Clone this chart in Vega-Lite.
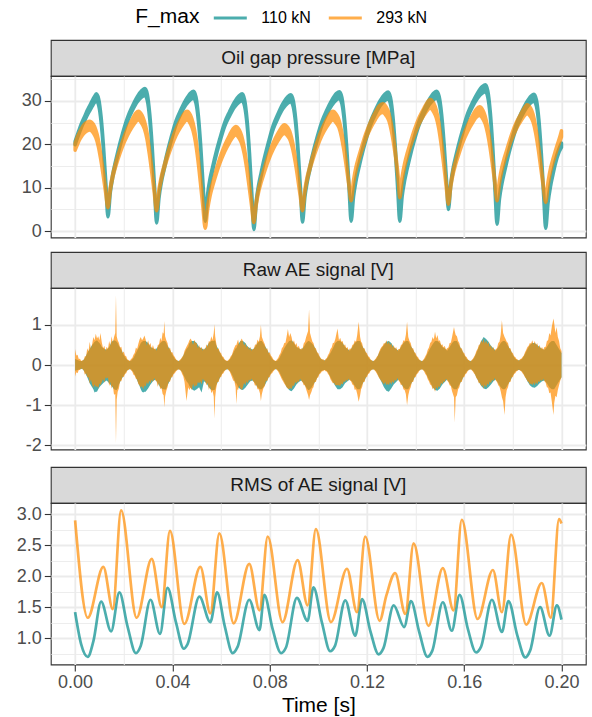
{
"$schema": "https://vega.github.io/schema/vega-lite/v6.json",
"padding": {"left": 14.8, "top": 0, "right": 5, "bottom": 2},
"background": "#FFFFFF",
"config": {
  "font": "Liberation Sans",
  "view": {"stroke": "#333333", "strokeWidth": 1.1},
  "axis": {"domain": false, "grid": true, "gridColor": "#EBEBEB", "tickColor": "#333333", "tickWidth": 1.1, "tickSize": 6.5, "labelColor": "#4D4D4D", "labelFontSize": 18, "labelPadding": 3, "labelOverlap": false, "labelFlush": false, "titleFontWeight": "normal"},
  "axisY": {"minExtent": 34, "maxExtent": 34},
  "text": {"font": "Liberation Sans"}
},
"datasets": {
"pres": [
{"t":0.0,"s":"110 kN","lo":19.9,"hi":20.7},{"t":0.001,"s":"110 kN","lo":21.5,"hi":22.3},{"t":0.002,"s":"110 kN","lo":23.0,"hi":23.9},{"t":0.003,"s":"110 kN","lo":24.4,"hi":25.3},{"t":0.004,"s":"110 kN","lo":25.5,"hi":26.5},{"t":0.005,"s":"110 kN","lo":26.7,"hi":27.8},{"t":0.006,"s":"110 kN","lo":27.7,"hi":28.9},{"t":0.007,"s":"110 kN","lo":28.7,"hi":30.0},{"t":0.008,"s":"110 kN","lo":29.6,"hi":31.0},{"t":0.0087,"s":"110 kN","lo":30.0,"hi":31.6},{"t":0.0097,"s":"110 kN","lo":28.9,"hi":30.4},{"t":0.0107,"s":"110 kN","lo":25.0,"hi":26.2},{"t":0.0117,"s":"110 kN","lo":18.4,"hi":19.3},{"t":0.0127,"s":"110 kN","lo":9.8,"hi":10.5},{"t":0.0135,"s":"110 kN","lo":3.3,"hi":3.9},
{"t":0.0145,"s":"110 kN","lo":9.0,"hi":9.7},{"t":0.0155,"s":"110 kN","lo":12.4,"hi":13.2},{"t":0.0165,"s":"110 kN","lo":15.0,"hi":15.8},{"t":0.0175,"s":"110 kN","lo":17.4,"hi":18.2},{"t":0.0195,"s":"110 kN","lo":21.7,"hi":22.5},{"t":0.0215,"s":"110 kN","lo":25.2,"hi":26.1},{"t":0.0235,"s":"110 kN","lo":27.7,"hi":28.7},{"t":0.0255,"s":"110 kN","lo":29.7,"hi":30.9},{"t":0.0275,"s":"110 kN","lo":30.9,"hi":32.4},{"t":0.0287,"s":"110 kN","lo":31.2,"hi":32.8},{"t":0.0297,"s":"110 kN","lo":30.0,"hi":31.5},{"t":0.0307,"s":"110 kN","lo":25.7,"hi":26.9},{"t":0.0317,"s":"110 kN","lo":18.5,"hi":19.4},{"t":0.0327,"s":"110 kN","lo":9.1,"hi":9.8},{"t":0.0335,"s":"110 kN","lo":1.9,"hi":2.5},
{"t":0.0345,"s":"110 kN","lo":7.7,"hi":8.4},{"t":0.0355,"s":"110 kN","lo":11.3,"hi":12.1},{"t":0.0365,"s":"110 kN","lo":13.9,"hi":14.7},{"t":0.0375,"s":"110 kN","lo":16.4,"hi":17.2},{"t":0.0395,"s":"110 kN","lo":20.8,"hi":21.6},{"t":0.0415,"s":"110 kN","lo":24.5,"hi":25.4},{"t":0.0435,"s":"110 kN","lo":27.0,"hi":28.0},{"t":0.0455,"s":"110 kN","lo":29.0,"hi":30.2},{"t":0.0475,"s":"110 kN","lo":30.3,"hi":31.8},{"t":0.0487,"s":"110 kN","lo":30.6,"hi":32.2},{"t":0.0497,"s":"110 kN","lo":29.4,"hi":30.9},{"t":0.0507,"s":"110 kN","lo":25.3,"hi":26.5},{"t":0.0517,"s":"110 kN","lo":18.3,"hi":19.2},{"t":0.0527,"s":"110 kN","lo":9.2,"hi":9.9},{"t":0.0535,"s":"110 kN","lo":2.3,"hi":2.9},
{"t":0.0545,"s":"110 kN","lo":7.9,"hi":8.6},{"t":0.0555,"s":"110 kN","lo":11.4,"hi":12.2},{"t":0.0565,"s":"110 kN","lo":13.9,"hi":14.7},{"t":0.0575,"s":"110 kN","lo":16.3,"hi":17.1},{"t":0.0595,"s":"110 kN","lo":20.5,"hi":21.3},{"t":0.0615,"s":"110 kN","lo":24.1,"hi":25.0},{"t":0.0635,"s":"110 kN","lo":26.5,"hi":27.5},{"t":0.0655,"s":"110 kN","lo":28.5,"hi":29.7},{"t":0.0675,"s":"110 kN","lo":29.7,"hi":31.2},{"t":0.0687,"s":"110 kN","lo":30.0,"hi":31.6},{"t":0.0697,"s":"110 kN","lo":28.7,"hi":30.2},{"t":0.0707,"s":"110 kN","lo":24.5,"hi":25.7},{"t":0.0717,"s":"110 kN","lo":17.2,"hi":18.1},{"t":0.0727,"s":"110 kN","lo":7.6,"hi":8.3},{"t":0.0735,"s":"110 kN","lo":0.4,"hi":1.0},
{"t":0.0745,"s":"110 kN","lo":6.4,"hi":7.1},{"t":0.0755,"s":"110 kN","lo":10.0,"hi":10.8},{"t":0.0765,"s":"110 kN","lo":12.7,"hi":13.5},{"t":0.0775,"s":"110 kN","lo":15.3,"hi":16.1},{"t":0.0795,"s":"110 kN","lo":19.7,"hi":20.5},{"t":0.0815,"s":"110 kN","lo":23.5,"hi":24.4},{"t":0.0835,"s":"110 kN","lo":26.1,"hi":27.1},{"t":0.0855,"s":"110 kN","lo":28.2,"hi":29.4},{"t":0.0875,"s":"110 kN","lo":29.5,"hi":31.0},{"t":0.0887,"s":"110 kN","lo":29.8,"hi":31.4},{"t":0.0897,"s":"110 kN","lo":28.6,"hi":30.1},{"t":0.0907,"s":"110 kN","lo":24.6,"hi":25.8},{"t":0.0917,"s":"110 kN","lo":17.8,"hi":18.7},{"t":0.0927,"s":"110 kN","lo":8.9,"hi":9.6},{"t":0.0935,"s":"110 kN","lo":2.1,"hi":2.7},
{"t":0.0945,"s":"110 kN","lo":7.9,"hi":8.6},{"t":0.0955,"s":"110 kN","lo":11.4,"hi":12.2},{"t":0.0965,"s":"110 kN","lo":14.0,"hi":14.8},{"t":0.0975,"s":"110 kN","lo":16.5,"hi":17.3},{"t":0.0995,"s":"110 kN","lo":20.8,"hi":21.6},{"t":0.1015,"s":"110 kN","lo":24.4,"hi":25.3},{"t":0.1035,"s":"110 kN","lo":26.9,"hi":27.9},{"t":0.1055,"s":"110 kN","lo":28.9,"hi":30.1},{"t":0.1075,"s":"110 kN","lo":30.2,"hi":31.7},{"t":0.1087,"s":"110 kN","lo":30.5,"hi":32.1},{"t":0.1097,"s":"110 kN","lo":29.3,"hi":30.8},{"t":0.1107,"s":"110 kN","lo":25.2,"hi":26.4},{"t":0.1117,"s":"110 kN","lo":18.3,"hi":19.2},{"t":0.1127,"s":"110 kN","lo":9.2,"hi":9.9},{"t":0.1135,"s":"110 kN","lo":2.3,"hi":2.9},
{"t":0.1145,"s":"110 kN","lo":8.0,"hi":8.7},{"t":0.1155,"s":"110 kN","lo":11.5,"hi":12.3},{"t":0.1165,"s":"110 kN","lo":14.1,"hi":14.9},{"t":0.1175,"s":"110 kN","lo":16.5,"hi":17.3},{"t":0.1195,"s":"110 kN","lo":20.8,"hi":21.6},{"t":0.1215,"s":"110 kN","lo":24.4,"hi":25.3},{"t":0.1235,"s":"110 kN","lo":26.9,"hi":27.9},{"t":0.1255,"s":"110 kN","lo":28.9,"hi":30.1},{"t":0.1275,"s":"110 kN","lo":30.1,"hi":31.6},{"t":0.1287,"s":"110 kN","lo":30.4,"hi":32.0},{"t":0.1297,"s":"110 kN","lo":29.2,"hi":30.7},{"t":0.1307,"s":"110 kN","lo":25.2,"hi":26.4},{"t":0.1317,"s":"110 kN","lo":18.2,"hi":19.1},{"t":0.1327,"s":"110 kN","lo":9.2,"hi":9.9},{"t":0.1335,"s":"110 kN","lo":2.3,"hi":2.9},
{"t":0.1345,"s":"110 kN","lo":8.1,"hi":8.8},{"t":0.1355,"s":"110 kN","lo":11.6,"hi":12.4},{"t":0.1365,"s":"110 kN","lo":14.2,"hi":15.0},{"t":0.1375,"s":"110 kN","lo":16.6,"hi":17.4},{"t":0.1395,"s":"110 kN","lo":20.9,"hi":21.7},{"t":0.1415,"s":"110 kN","lo":24.5,"hi":25.4},{"t":0.1435,"s":"110 kN","lo":27.0,"hi":28.0},{"t":0.1455,"s":"110 kN","lo":29.0,"hi":30.2},{"t":0.1475,"s":"110 kN","lo":30.3,"hi":31.8},{"t":0.1487,"s":"110 kN","lo":30.6,"hi":32.2},{"t":0.1497,"s":"110 kN","lo":29.5,"hi":31.0},{"t":0.1507,"s":"110 kN","lo":25.8,"hi":27.0},{"t":0.1517,"s":"110 kN","lo":19.5,"hi":20.4},{"t":0.1527,"s":"110 kN","lo":11.3,"hi":12.0},{"t":0.1535,"s":"110 kN","lo":5.0,"hi":5.6},
{"t":0.1545,"s":"110 kN","lo":10.5,"hi":11.2},{"t":0.1555,"s":"110 kN","lo":13.9,"hi":14.7},{"t":0.1565,"s":"110 kN","lo":16.4,"hi":17.2},{"t":0.1575,"s":"110 kN","lo":18.7,"hi":19.5},{"t":0.1595,"s":"110 kN","lo":22.8,"hi":23.6},{"t":0.1615,"s":"110 kN","lo":26.3,"hi":27.2},{"t":0.1635,"s":"110 kN","lo":28.7,"hi":29.7},{"t":0.1655,"s":"110 kN","lo":30.6,"hi":31.8},{"t":0.1675,"s":"110 kN","lo":31.8,"hi":33.3},{"t":0.1687,"s":"110 kN","lo":32.1,"hi":33.7},{"t":0.1697,"s":"110 kN","lo":30.8,"hi":32.3},{"t":0.1707,"s":"110 kN","lo":26.4,"hi":27.6},{"t":0.1717,"s":"110 kN","lo":18.9,"hi":19.8},{"t":0.1727,"s":"110 kN","lo":9.0,"hi":9.7},{"t":0.1735,"s":"110 kN","lo":1.6,"hi":2.2},
{"t":0.1745,"s":"110 kN","lo":7.4,"hi":8.1},{"t":0.1755,"s":"110 kN","lo":10.9,"hi":11.7},{"t":0.1765,"s":"110 kN","lo":13.5,"hi":14.3},{"t":0.1775,"s":"110 kN","lo":15.9,"hi":16.7},{"t":0.1795,"s":"110 kN","lo":20.2,"hi":21.0},{"t":0.1815,"s":"110 kN","lo":23.8,"hi":24.7},{"t":0.1835,"s":"110 kN","lo":26.3,"hi":27.3},{"t":0.1855,"s":"110 kN","lo":28.3,"hi":29.5},{"t":0.1875,"s":"110 kN","lo":29.6,"hi":31.1},{"t":0.1887,"s":"110 kN","lo":29.9,"hi":31.5},{"t":0.1897,"s":"110 kN","lo":28.7,"hi":30.2},{"t":0.1907,"s":"110 kN","lo":24.5,"hi":25.7},{"t":0.1917,"s":"110 kN","lo":17.2,"hi":18.1},{"t":0.1927,"s":"110 kN","lo":7.8,"hi":8.5},{"t":0.1935,"s":"110 kN","lo":0.65,"hi":1.25},
{"t":0.1945,"s":"110 kN","lo":6.6,"hi":7.3},{"t":0.1955,"s":"110 kN","lo":10.3,"hi":11.1},{"t":0.1965,"s":"110 kN","lo":13.0,"hi":13.8},{"t":0.1975,"s":"110 kN","lo":15.5,"hi":16.3},{"t":0.199,"s":"110 kN","lo":18.2,"hi":19.0},{"t":0.2,"s":"110 kN","lo":19.3,"hi":20.3},
{"t":0.0,"s":"293 kN","lo":18.6,"hi":20.2},{"t":0.001,"s":"293 kN","lo":20.0,"hi":21.8},{"t":0.002,"s":"293 kN","lo":21.2,"hi":23.0},{"t":0.003,"s":"293 kN","lo":22.1,"hi":24.0},{"t":0.004,"s":"293 kN","lo":22.7,"hi":24.7},{"t":0.005,"s":"293 kN","lo":23.1,"hi":25.1},{"t":0.0059,"s":"293 kN","lo":23.3,"hi":25.3},{"t":0.0075,"s":"293 kN","lo":22.6,"hi":24.6},{"t":0.0085,"s":"293 kN","lo":21.5,"hi":23.3},{"t":0.0095,"s":"293 kN","lo":19.6,"hi":21.2},{"t":0.0105,"s":"293 kN","lo":16.6,"hi":17.8},{"t":0.0115,"s":"293 kN","lo":13.0,"hi":14.0},{"t":0.0125,"s":"293 kN","lo":9.0,"hi":9.8},{"t":0.0135,"s":"293 kN","lo":5.4,"hi":6.0},
{"t":0.0145,"s":"293 kN","lo":9.5,"hi":10.2},{"t":0.0155,"s":"293 kN","lo":12.4,"hi":13.2},{"t":0.0165,"s":"293 kN","lo":14.5,"hi":15.3},{"t":0.0175,"s":"293 kN","lo":16.3,"hi":17.2},{"t":0.0195,"s":"293 kN","lo":19.5,"hi":20.7},{"t":0.0215,"s":"293 kN","lo":22.0,"hi":23.6},{"t":0.0235,"s":"293 kN","lo":24.0,"hi":25.8},{"t":0.025,"s":"293 kN","lo":25.2,"hi":27.2},{"t":0.026,"s":"293 kN","lo":25.6,"hi":27.6},{"t":0.0275,"s":"293 kN","lo":24.7,"hi":26.7},{"t":0.0285,"s":"293 kN","lo":23.5,"hi":25.3},{"t":0.0295,"s":"293 kN","lo":21.3,"hi":22.9},{"t":0.0305,"s":"293 kN","lo":17.8,"hi":19.0},{"t":0.0315,"s":"293 kN","lo":13.6,"hi":14.6},{"t":0.0325,"s":"293 kN","lo":9.0,"hi":9.7},{"t":0.0335,"s":"293 kN","lo":4.7,"hi":5.3},
{"t":0.0345,"s":"293 kN","lo":9.0,"hi":9.7},{"t":0.0355,"s":"293 kN","lo":11.9,"hi":12.7},{"t":0.0365,"s":"293 kN","lo":14.1,"hi":14.9},{"t":0.0375,"s":"293 kN","lo":16.0,"hi":16.9},{"t":0.0395,"s":"293 kN","lo":19.3,"hi":20.5},{"t":0.0415,"s":"293 kN","lo":22.0,"hi":23.5},{"t":0.0435,"s":"293 kN","lo":24.0,"hi":25.8},{"t":0.045,"s":"293 kN","lo":25.2,"hi":27.2},{"t":0.046,"s":"293 kN","lo":25.6,"hi":27.6},{"t":0.0475,"s":"293 kN","lo":24.6,"hi":26.6},{"t":0.0485,"s":"293 kN","lo":23.1,"hi":24.9},{"t":0.0495,"s":"293 kN","lo":20.4,"hi":22.0},{"t":0.0505,"s":"293 kN","lo":16.3,"hi":17.5},{"t":0.0515,"s":"293 kN","lo":11.2,"hi":12.2},{"t":0.0525,"s":"293 kN","lo":5.8,"hi":6.5},{"t":0.0535,"s":"293 kN","lo":0.65,"hi":1.25},
{"t":0.0545,"s":"293 kN","lo":5.0,"hi":5.7},{"t":0.0555,"s":"293 kN","lo":8.1,"hi":8.9},{"t":0.0565,"s":"293 kN","lo":10.3,"hi":11.1},{"t":0.0575,"s":"293 kN","lo":12.2,"hi":13.1},{"t":0.0595,"s":"293 kN","lo":15.6,"hi":16.8},{"t":0.0615,"s":"293 kN","lo":18.3,"hi":19.8},{"t":0.0635,"s":"293 kN","lo":20.4,"hi":22.1},{"t":0.065,"s":"293 kN","lo":21.7,"hi":23.6},{"t":0.066,"s":"293 kN","lo":22.1,"hi":24.1},{"t":0.0675,"s":"293 kN","lo":21.3,"hi":23.3},{"t":0.0685,"s":"293 kN","lo":20.1,"hi":21.9},{"t":0.0695,"s":"293 kN","lo":17.9,"hi":19.4},{"t":0.0705,"s":"293 kN","lo":14.6,"hi":15.8},{"t":0.0715,"s":"293 kN","lo":10.5,"hi":11.4},{"t":0.0725,"s":"293 kN","lo":6.1,"hi":6.8},{"t":0.0735,"s":"293 kN","lo":2.0,"hi":2.6},
{"t":0.0745,"s":"293 kN","lo":6.1,"hi":6.8},{"t":0.0755,"s":"293 kN","lo":9.1,"hi":9.9},{"t":0.0765,"s":"293 kN","lo":11.2,"hi":12.0},{"t":0.0775,"s":"293 kN","lo":13.0,"hi":13.9},{"t":0.0795,"s":"293 kN","lo":16.3,"hi":17.5},{"t":0.0815,"s":"293 kN","lo":18.9,"hi":20.4},{"t":0.0835,"s":"293 kN","lo":20.9,"hi":22.6},{"t":0.085,"s":"293 kN","lo":22.1,"hi":24.0},{"t":0.086,"s":"293 kN","lo":22.5,"hi":24.5},{"t":0.0875,"s":"293 kN","lo":21.8,"hi":23.8},{"t":0.0885,"s":"293 kN","lo":20.8,"hi":22.6},{"t":0.0895,"s":"293 kN","lo":18.8,"hi":20.3},{"t":0.0905,"s":"293 kN","lo":15.9,"hi":17.1},{"t":0.0915,"s":"293 kN","lo":12.3,"hi":13.2},{"t":0.0925,"s":"293 kN","lo":8.3,"hi":9.0},{"t":0.0935,"s":"293 kN","lo":4.7,"hi":5.3},
{"t":0.0945,"s":"293 kN","lo":9.0,"hi":9.7},{"t":0.0955,"s":"293 kN","lo":11.9,"hi":12.7},{"t":0.0965,"s":"293 kN","lo":14.1,"hi":14.9},{"t":0.0975,"s":"293 kN","lo":16.0,"hi":16.9},{"t":0.0995,"s":"293 kN","lo":19.3,"hi":20.5},{"t":0.1015,"s":"293 kN","lo":22.0,"hi":23.5},{"t":0.1035,"s":"293 kN","lo":24.0,"hi":25.8},{"t":0.105,"s":"293 kN","lo":25.2,"hi":27.2},{"t":0.106,"s":"293 kN","lo":25.6,"hi":27.6},{"t":0.1075,"s":"293 kN","lo":24.8,"hi":26.8},{"t":0.1085,"s":"293 kN","lo":23.8,"hi":25.6},{"t":0.1095,"s":"293 kN","lo":21.7,"hi":23.2},{"t":0.1105,"s":"293 kN","lo":18.7,"hi":19.9},{"t":0.1115,"s":"293 kN","lo":14.9,"hi":15.8},{"t":0.1125,"s":"293 kN","lo":10.8,"hi":11.5},{"t":0.1135,"s":"293 kN","lo":7.0,"hi":7.6},
{"t":0.1145,"s":"293 kN","lo":11.1,"hi":11.8},{"t":0.1155,"s":"293 kN","lo":14.0,"hi":14.8},{"t":0.1165,"s":"293 kN","lo":16.1,"hi":16.9},{"t":0.1175,"s":"293 kN","lo":17.9,"hi":18.8},{"t":0.1195,"s":"293 kN","lo":21.2,"hi":22.4},{"t":0.1215,"s":"293 kN","lo":23.7,"hi":25.2},{"t":0.1235,"s":"293 kN","lo":25.7,"hi":27.4},{"t":0.125,"s":"293 kN","lo":26.9,"hi":28.8},{"t":0.1265,"s":"293 kN","lo":27.3,"hi":29.3},{"t":0.128,"s":"293 kN","lo":26.5,"hi":28.5},{"t":0.129,"s":"293 kN","lo":25.4,"hi":27.2},{"t":0.13,"s":"293 kN","lo":23.2,"hi":24.7},{"t":0.131,"s":"293 kN","lo":20.0,"hi":21.2},{"t":0.132,"s":"293 kN","lo":16.0,"hi":16.9},{"t":0.1329,"s":"293 kN","lo":11.7,"hi":12.4},{"t":0.1335,"s":"293 kN","lo":7.7,"hi":8.3},
{"t":0.1345,"s":"293 kN","lo":11.9,"hi":12.6},{"t":0.1355,"s":"293 kN","lo":14.8,"hi":15.6},{"t":0.1365,"s":"293 kN","lo":17.0,"hi":17.8},{"t":0.1375,"s":"293 kN","lo":18.8,"hi":19.7},{"t":0.1395,"s":"293 kN","lo":22.1,"hi":23.3},{"t":0.1415,"s":"293 kN","lo":24.7,"hi":26.2},{"t":0.1435,"s":"293 kN","lo":26.7,"hi":28.4},{"t":0.145,"s":"293 kN","lo":27.9,"hi":29.8},{"t":0.146,"s":"293 kN","lo":28.3,"hi":30.3},{"t":0.1475,"s":"293 kN","lo":27.4,"hi":29.4},{"t":0.1485,"s":"293 kN","lo":26.1,"hi":27.9},{"t":0.1495,"s":"293 kN","lo":23.7,"hi":25.2},{"t":0.1505,"s":"293 kN","lo":20.0,"hi":21.2},{"t":0.1515,"s":"293 kN","lo":15.6,"hi":16.5},{"t":0.1525,"s":"293 kN","lo":10.7,"hi":11.4},{"t":0.1535,"s":"293 kN","lo":6.2,"hi":6.8},
{"t":0.1545,"s":"293 kN","lo":10.3,"hi":11.0},{"t":0.1555,"s":"293 kN","lo":13.3,"hi":14.1},{"t":0.1565,"s":"293 kN","lo":15.4,"hi":16.2},{"t":0.1575,"s":"293 kN","lo":17.2,"hi":18.1},{"t":0.1595,"s":"293 kN","lo":20.5,"hi":21.7},{"t":0.1615,"s":"293 kN","lo":23.0,"hi":24.5},{"t":0.1635,"s":"293 kN","lo":25.0,"hi":26.7},{"t":0.165,"s":"293 kN","lo":26.2,"hi":28.1},{"t":0.1663,"s":"293 kN","lo":26.6,"hi":28.6},{"t":0.1677,"s":"293 kN","lo":25.8,"hi":27.8},{"t":0.1686,"s":"293 kN","lo":24.7,"hi":26.5},{"t":0.1696,"s":"293 kN","lo":22.5,"hi":24.0},{"t":0.1706,"s":"293 kN","lo":19.3,"hi":20.5},{"t":0.1716,"s":"293 kN","lo":15.3,"hi":16.2},{"t":0.1726,"s":"293 kN","lo":11.0,"hi":11.7},{"t":0.1735,"s":"293 kN","lo":7.0,"hi":7.6},
{"t":0.1745,"s":"293 kN","lo":11.1,"hi":11.8},{"t":0.1755,"s":"293 kN","lo":14.0,"hi":14.8},{"t":0.1765,"s":"293 kN","lo":16.1,"hi":16.9},{"t":0.1775,"s":"293 kN","lo":17.8,"hi":18.7},{"t":0.1795,"s":"293 kN","lo":21.1,"hi":22.3},{"t":0.1815,"s":"293 kN","lo":23.6,"hi":25.1},{"t":0.1835,"s":"293 kN","lo":25.5,"hi":27.2},{"t":0.185,"s":"293 kN","lo":26.7,"hi":28.6},{"t":0.1858,"s":"293 kN","lo":27.1,"hi":29.1},{"t":0.1873,"s":"293 kN","lo":26.3,"hi":28.3},{"t":0.1883,"s":"293 kN","lo":25.1,"hi":26.9},{"t":0.1893,"s":"293 kN","lo":22.8,"hi":24.3},{"t":0.1903,"s":"293 kN","lo":19.4,"hi":20.6},{"t":0.1913,"s":"293 kN","lo":15.3,"hi":16.2},{"t":0.1924,"s":"293 kN","lo":10.7,"hi":11.4},{"t":0.1935,"s":"293 kN","lo":6.6,"hi":7.2},
{"t":0.1945,"s":"293 kN","lo":10.7,"hi":11.4},{"t":0.1955,"s":"293 kN","lo":13.7,"hi":14.5},{"t":0.1965,"s":"293 kN","lo":15.8,"hi":16.6},{"t":0.1975,"s":"293 kN","lo":17.6,"hi":18.5},{"t":0.1995,"s":"293 kN","lo":20.9,"hi":22.1},{"t":0.2,"s":"293 kN","lo":21.7,"hi":23.1}
],
"ae": [
{"t":0.0,"al":-0.14,"ah":0.15,"bl":-0.28,"bh":0.40},{"t":0.001,"al":-0.12,"ah":0.13,"bl":-0.20,"bh":0.26},{"t":0.002,"al":-0.10,"ah":0.10,"bl":-0.12,"bh":0.16},{"t":0.003,"al":-0.09,"ah":0.10,"bl":-0.10,"bh":0.12},{"t":0.004,"al":-0.18,"ah":0.17,"bl":-0.24,"bh":0.22},{"t":0.005,"al":-0.30,"ah":0.30,"bl":-0.30,"bh":0.42},{"t":0.006,"al":-0.45,"ah":0.40,"bl":-0.46,"bh":0.58},{"t":0.007,"al":-0.55,"ah":0.50,"bl":-0.48,"bh":0.52},{"t":0.0075,"al":-0.60,"ah":0.54,"bl":-0.56,"bh":0.70},{"t":0.008,"al":-0.68,"ah":0.58,"bl":-0.48,"bh":0.62},{"t":0.0085,"al":-0.66,"ah":0.60,"bl":-0.55,"bh":0.78},{"t":0.009,"al":-0.66,"ah":0.62,"bl":-0.52,"bh":0.66},{"t":0.0095,"al":-0.60,"ah":0.58,"bl":-0.58,"bh":0.72},{"t":0.010,"al":-0.55,"ah":0.55,"bl":-0.46,"bh":0.62},{"t":0.0104,"al":-0.52,"ah":0.52,"bl":-0.50,"bh":0.80},{"t":0.011,"al":-0.48,"ah":0.45,"bl":-0.42,"bh":0.56},{"t":0.012,"al":-0.42,"ah":0.40,"bl":-0.44,"bh":0.48},{"t":0.013,"al":-0.38,"ah":0.38,"bl":-0.34,"bh":0.46},{"t":0.014,"al":-0.45,"ah":0.45,"bl":-0.52,"bh":0.60},{"t":0.015,"al":-0.52,"ah":0.58,"bl":-0.58,"bh":0.72},{"t":0.016,"al":-0.60,"ah":0.62,"bl":-0.74,"bh":0.70},{"t":0.0165,"al":-0.61,"ah":0.61,"bl":-0.72,"bh":0.80},{"t":0.0168,"al":-0.62,"ah":0.60,"bl":-1.94,"bh":1.74},{"t":0.0171,"al":-0.62,"ah":0.58,"bl":-0.86,"bh":0.72},{"t":0.0175,"al":-0.58,"ah":0.55,"bl":-0.66,"bh":0.62},{"t":0.018,"al":-0.48,"ah":0.48,"bl":-0.58,"bh":0.56},{"t":0.019,"al":-0.36,"ah":0.38,"bl":-0.40,"bh":0.46},{"t":0.020,"al":-0.26,"ah":0.25,"bl":-0.30,"bh":0.34},
{"t":0.021,"al":-0.16,"ah":0.16,"bl":-0.20,"bh":0.22},{"t":0.022,"al":-0.10,"ah":0.10,"bl":-0.12,"bh":0.13},{"t":0.023,"al":-0.10,"ah":0.11,"bl":-0.13,"bh":0.15},{"t":0.024,"al":-0.18,"ah":0.18,"bl":-0.24,"bh":0.26},{"t":0.025,"al":-0.30,"ah":0.30,"bl":-0.34,"bh":0.44},{"t":0.026,"al":-0.45,"ah":0.42,"bl":-0.47,"bh":0.53},{"t":0.0265,"al":-0.52,"ah":0.48,"bl":-0.50,"bh":0.64},{"t":0.027,"al":-0.60,"ah":0.55,"bl":-0.56,"bh":0.70},{"t":0.0275,"al":-0.66,"ah":0.58,"bl":-0.52,"bh":0.62},{"t":0.028,"al":-0.68,"ah":0.60,"bl":-0.60,"bh":0.66},{"t":0.0285,"al":-0.66,"ah":0.60,"bl":-0.50,"bh":0.74},{"t":0.029,"al":-0.66,"ah":0.60,"bl":-0.54,"bh":0.64},{"t":0.030,"al":-0.58,"ah":0.55,"bl":-0.48,"bh":0.62},{"t":0.031,"al":-0.48,"ah":0.45,"bl":-0.46,"bh":0.55},{"t":0.032,"al":-0.40,"ah":0.42,"bl":-0.42,"bh":0.50},{"t":0.033,"al":-0.36,"ah":0.38,"bl":-0.38,"bh":0.42},{"t":0.034,"al":-0.45,"ah":0.45,"bl":-0.54,"bh":0.50},{"t":0.035,"al":-0.55,"ah":0.55,"bl":-0.60,"bh":0.68},{"t":0.036,"al":-0.60,"ah":0.60,"bl":-0.72,"bh":0.82},{"t":0.0364,"al":-0.60,"ah":0.60,"bl":-0.75,"bh":0.78},{"t":0.0367,"al":-0.60,"ah":0.60,"bl":-1.05,"bh":1.10},{"t":0.037,"al":-0.62,"ah":0.60,"bl":-0.78,"bh":0.72},{"t":0.0375,"al":-0.58,"ah":0.55,"bl":-0.64,"bh":0.62},{"t":0.038,"al":-0.50,"ah":0.48,"bl":-0.55,"bh":0.55},{"t":0.039,"al":-0.38,"ah":0.38,"bl":-0.42,"bh":0.44},{"t":0.040,"al":-0.26,"ah":0.26,"bl":-0.30,"bh":0.32},
{"t":0.041,"al":-0.16,"ah":0.16,"bl":-0.20,"bh":0.20},{"t":0.042,"al":-0.11,"ah":0.11,"bl":-0.13,"bh":0.12},{"t":0.043,"al":-0.10,"ah":0.10,"bl":-0.12,"bh":0.13},{"t":0.044,"al":-0.17,"ah":0.18,"bl":-0.22,"bh":0.20},{"t":0.045,"al":-0.30,"ah":0.30,"bl":-0.42,"bh":0.36},{"t":0.0458,"al":-0.40,"ah":0.40,"bl":-0.89,"bh":0.46},{"t":0.0465,"al":-0.45,"ah":0.45,"bl":-0.55,"bh":0.54},{"t":0.047,"al":-0.52,"ah":0.55,"bl":-0.62,"bh":0.62},{"t":0.0475,"al":-0.56,"ah":0.58,"bl":-0.56,"bh":0.66},{"t":0.048,"al":-0.60,"ah":0.60,"bl":-0.62,"bh":0.60},{"t":0.049,"al":-0.64,"ah":0.60,"bl":-0.55,"bh":0.63},{"t":0.050,"al":-0.60,"ah":0.55,"bl":-0.52,"bh":0.55},{"t":0.051,"al":-0.55,"ah":0.45,"bl":-0.46,"bh":0.50},{"t":0.052,"al":-0.68,"ah":0.42,"bl":-0.48,"bh":0.46},{"t":0.053,"al":-0.40,"ah":0.38,"bl":-0.38,"bh":0.42},{"t":0.054,"al":-0.45,"ah":0.45,"bl":-0.50,"bh":0.52},{"t":0.055,"al":-0.55,"ah":0.55,"bl":-0.62,"bh":0.60},{"t":0.056,"al":-0.62,"ah":0.60,"bl":-0.70,"bh":0.72},{"t":0.057,"al":-0.62,"ah":0.60,"bl":-0.78,"bh":0.80},{"t":0.0573,"al":-0.62,"ah":0.62,"bl":-1.33,"bh":1.02},{"t":0.0576,"al":-0.60,"ah":0.60,"bl":-0.80,"bh":0.72},{"t":0.058,"al":-0.50,"ah":0.50,"bl":-0.58,"bh":0.56},{"t":0.059,"al":-0.38,"ah":0.38,"bl":-0.42,"bh":0.42},{"t":0.060,"al":-0.26,"ah":0.26,"bl":-0.30,"bh":0.30},
{"t":0.061,"al":-0.16,"ah":0.16,"bl":-0.20,"bh":0.20},{"t":0.062,"al":-0.11,"ah":0.10,"bl":-0.12,"bh":0.12},{"t":0.063,"al":-0.10,"ah":0.10,"bl":-0.12,"bh":0.13},{"t":0.064,"al":-0.18,"ah":0.18,"bl":-0.22,"bh":0.22},{"t":0.065,"al":-0.30,"ah":0.30,"bl":-0.38,"bh":0.36},{"t":0.066,"al":-0.45,"ah":0.42,"bl":-0.55,"bh":0.50},{"t":0.0663,"al":-0.45,"ah":0.42,"bl":-0.97,"bh":0.50},{"t":0.0667,"al":-0.50,"ah":0.48,"bl":-0.60,"bh":0.58},{"t":0.067,"al":-0.55,"ah":0.52,"bl":-0.62,"bh":0.64},{"t":0.068,"al":-0.60,"ah":0.60,"bl":-0.58,"bh":0.60},{"t":0.0685,"al":-0.61,"ah":0.60,"bl":-0.62,"bh":0.66},{"t":0.069,"al":-0.62,"ah":0.60,"bl":-0.55,"bh":0.60},{"t":0.070,"al":-0.56,"ah":0.55,"bl":-0.50,"bh":0.56},{"t":0.071,"al":-0.48,"ah":0.46,"bl":-0.46,"bh":0.48},{"t":0.072,"al":-0.40,"ah":0.42,"bl":-0.40,"bh":0.46},{"t":0.073,"al":-0.38,"ah":0.38,"bl":-0.38,"bh":0.40},{"t":0.074,"al":-0.45,"ah":0.45,"bl":-0.52,"bh":0.52},{"t":0.075,"al":-0.55,"ah":0.55,"bl":-0.60,"bh":0.64},{"t":0.076,"al":-0.60,"ah":0.60,"bl":-0.70,"bh":0.72},{"t":0.0764,"al":-0.60,"ah":0.60,"bl":-0.89,"bh":1.00},{"t":0.0768,"al":-0.60,"ah":0.60,"bl":-0.72,"bh":0.70},{"t":0.078,"al":-0.50,"ah":0.48,"bl":-0.52,"bh":0.52},{"t":0.079,"al":-0.38,"ah":0.38,"bl":-0.40,"bh":0.42},{"t":0.080,"al":-0.26,"ah":0.26,"bl":-0.30,"bh":0.32},
{"t":0.081,"al":-0.16,"ah":0.16,"bl":-0.20,"bh":0.20},{"t":0.082,"al":-0.10,"ah":0.10,"bl":-0.12,"bh":0.12},{"t":0.083,"al":-0.10,"ah":0.10,"bl":-0.12,"bh":0.14},{"t":0.084,"al":-0.17,"ah":0.18,"bl":-0.22,"bh":0.25},{"t":0.085,"al":-0.30,"ah":0.30,"bl":-0.35,"bh":0.42},{"t":0.086,"al":-0.42,"ah":0.42,"bl":-0.46,"bh":0.55},{"t":0.087,"al":-0.55,"ah":0.52,"bl":-0.55,"bh":0.72},{"t":0.0875,"al":-0.58,"ah":0.56,"bl":-0.58,"bh":0.90},{"t":0.088,"al":-0.62,"ah":0.60,"bl":-0.60,"bh":0.70},{"t":0.0885,"al":-0.64,"ah":0.61,"bl":-0.56,"bh":0.80},{"t":0.089,"al":-0.65,"ah":0.62,"bl":-0.60,"bh":0.70},{"t":0.090,"al":-0.58,"ah":0.55,"bl":-0.52,"bh":0.62},{"t":0.091,"al":-0.48,"ah":0.45,"bl":-0.46,"bh":0.55},{"t":0.092,"al":-0.42,"ah":0.42,"bl":-0.42,"bh":0.48},{"t":0.093,"al":-0.38,"ah":0.38,"bl":-0.38,"bh":0.42},{"t":0.094,"al":-0.45,"ah":0.45,"bl":-0.50,"bh":0.54},{"t":0.095,"al":-0.55,"ah":0.55,"bl":-0.60,"bh":0.70},{"t":0.0958,"al":-0.62,"ah":0.60,"bl":-0.75,"bh":0.85},{"t":0.0962,"al":-0.62,"ah":0.60,"bl":-0.87,"bh":1.39},{"t":0.0966,"al":-0.60,"ah":0.58,"bl":-0.75,"bh":0.80},{"t":0.0972,"al":-0.56,"ah":0.55,"bl":-0.66,"bh":0.66},{"t":0.098,"al":-0.48,"ah":0.50,"bl":-0.55,"bh":0.55},{"t":0.099,"al":-0.38,"ah":0.38,"bl":-0.42,"bh":0.42},{"t":0.100,"al":-0.26,"ah":0.26,"bl":-0.30,"bh":0.30},
{"t":0.101,"al":-0.16,"ah":0.16,"bl":-0.20,"bh":0.18},{"t":0.102,"al":-0.12,"ah":0.12,"bl":-0.15,"bh":0.15},{"t":0.103,"al":-0.12,"ah":0.12,"bl":-0.15,"bh":0.15},{"t":0.104,"al":-0.18,"ah":0.20,"bl":-0.22,"bh":0.25},{"t":0.105,"al":-0.30,"ah":0.30,"bl":-0.35,"bh":0.40},{"t":0.106,"al":-0.42,"ah":0.42,"bl":-0.45,"bh":0.55},{"t":0.107,"al":-0.52,"ah":0.55,"bl":-0.50,"bh":0.65},{"t":0.1079,"al":-0.60,"ah":0.60,"bl":-0.50,"bh":0.91},{"t":0.1085,"al":-0.60,"ah":0.60,"bl":-0.50,"bh":0.62},{"t":0.109,"al":-0.60,"ah":0.60,"bl":-0.52,"bh":0.68},{"t":0.110,"al":-0.55,"ah":0.55,"bl":-0.48,"bh":0.60},{"t":0.111,"al":-0.45,"ah":0.45,"bl":-0.42,"bh":0.52},{"t":0.112,"al":-0.40,"ah":0.40,"bl":-0.40,"bh":0.45},{"t":0.113,"al":-0.36,"ah":0.36,"bl":-0.38,"bh":0.42},{"t":0.114,"al":-0.42,"ah":0.45,"bl":-0.48,"bh":0.50},{"t":0.115,"al":-0.52,"ah":0.55,"bl":-0.62,"bh":0.62},{"t":0.116,"al":-0.60,"ah":0.60,"bl":-0.72,"bh":0.75},{"t":0.1166,"al":-0.60,"ah":0.60,"bl":-0.91,"bh":1.08},{"t":0.1172,"al":-0.60,"ah":0.60,"bl":-0.75,"bh":0.70},{"t":0.118,"al":-0.48,"ah":0.48,"bl":-0.55,"bh":0.55},{"t":0.119,"al":-0.38,"ah":0.38,"bl":-0.42,"bh":0.42},{"t":0.120,"al":-0.26,"ah":0.26,"bl":-0.30,"bh":0.30},
{"t":0.121,"al":-0.16,"ah":0.16,"bl":-0.20,"bh":0.20},{"t":0.122,"al":-0.11,"ah":0.11,"bl":-0.12,"bh":0.12},{"t":0.123,"al":-0.10,"ah":0.10,"bl":-0.12,"bh":0.12},{"t":0.124,"al":-0.17,"ah":0.17,"bl":-0.20,"bh":0.20},{"t":0.125,"al":-0.30,"ah":0.30,"bl":-0.32,"bh":0.33},{"t":0.126,"al":-0.42,"ah":0.42,"bl":-0.40,"bh":0.45},{"t":0.127,"al":-0.55,"ah":0.50,"bl":-0.48,"bh":0.55},{"t":0.128,"al":-0.64,"ah":0.58,"bl":-0.50,"bh":0.62},{"t":0.129,"al":-0.66,"ah":0.60,"bl":-0.50,"bh":0.60},{"t":0.130,"al":-0.58,"ah":0.55,"bl":-0.48,"bh":0.55},{"t":0.131,"al":-0.48,"ah":0.45,"bl":-0.45,"bh":0.50},{"t":0.132,"al":-0.42,"ah":0.40,"bl":-0.40,"bh":0.45},{"t":0.133,"al":-0.36,"ah":0.36,"bl":-0.38,"bh":0.40},{"t":0.134,"al":-0.45,"ah":0.45,"bl":-0.50,"bh":0.50},{"t":0.135,"al":-0.55,"ah":0.55,"bl":-0.60,"bh":0.62},{"t":0.136,"al":-0.60,"ah":0.60,"bl":-0.72,"bh":0.75},{"t":0.1365,"al":-0.60,"ah":0.60,"bl":-1.00,"bh":1.08},{"t":0.137,"al":-0.60,"ah":0.60,"bl":-0.75,"bh":0.70},{"t":0.138,"al":-0.48,"ah":0.48,"bl":-0.55,"bh":0.55},{"t":0.139,"al":-0.38,"ah":0.38,"bl":-0.42,"bh":0.42},{"t":0.140,"al":-0.26,"ah":0.26,"bl":-0.30,"bh":0.30},
{"t":0.141,"al":-0.16,"ah":0.16,"bl":-0.20,"bh":0.20},{"t":0.142,"al":-0.11,"ah":0.11,"bl":-0.12,"bh":0.12},{"t":0.143,"al":-0.10,"ah":0.10,"bl":-0.12,"bh":0.12},{"t":0.144,"al":-0.17,"ah":0.17,"bl":-0.22,"bh":0.22},{"t":0.145,"al":-0.30,"ah":0.30,"bl":-0.35,"bh":0.38},{"t":0.146,"al":-0.42,"ah":0.42,"bl":-0.48,"bh":0.55},{"t":0.147,"al":-0.55,"ah":0.52,"bl":-0.60,"bh":0.70},{"t":0.148,"al":-0.62,"ah":0.60,"bl":-0.66,"bh":0.83},{"t":0.149,"al":-0.64,"ah":0.60,"bl":-0.60,"bh":0.75},{"t":0.150,"al":-0.58,"ah":0.55,"bl":-0.55,"bh":0.62},{"t":0.151,"al":-0.48,"ah":0.45,"bl":-0.48,"bh":0.52},{"t":0.152,"al":-0.42,"ah":0.42,"bl":-0.42,"bh":0.48},{"t":0.153,"al":-0.36,"ah":0.36,"bl":-0.38,"bh":0.42},{"t":0.154,"al":-0.45,"ah":0.45,"bl":-0.50,"bh":0.55},{"t":0.155,"al":-0.55,"ah":0.55,"bl":-0.65,"bh":0.70},{"t":0.1558,"al":-0.60,"ah":0.60,"bl":-0.80,"bh":0.95},{"t":0.1561,"al":-0.60,"ah":0.60,"bl":-1.43,"bh":0.85},{"t":0.1565,"al":-0.60,"ah":0.60,"bl":-0.80,"bh":0.75},{"t":0.157,"al":-0.60,"ah":0.60,"bl":-0.75,"bh":0.72},{"t":0.158,"al":-0.48,"ah":0.48,"bl":-0.55,"bh":0.55},{"t":0.159,"al":-0.38,"ah":0.38,"bl":-0.42,"bh":0.42},{"t":0.160,"al":-0.26,"ah":0.26,"bl":-0.30,"bh":0.30},
{"t":0.161,"al":-0.16,"ah":0.16,"bl":-0.20,"bh":0.20},{"t":0.162,"al":-0.11,"ah":0.11,"bl":-0.12,"bh":0.12},{"t":0.163,"al":-0.10,"ah":0.10,"bl":-0.12,"bh":0.12},{"t":0.164,"al":-0.17,"ah":0.17,"bl":-0.20,"bh":0.20},{"t":0.165,"al":-0.30,"ah":0.30,"bl":-0.32,"bh":0.35},{"t":0.166,"al":-0.42,"ah":0.45,"bl":-0.45,"bh":0.50},{"t":0.167,"al":-0.52,"ah":0.60,"bl":-0.52,"bh":0.62},{"t":0.168,"al":-0.58,"ah":0.70,"bl":-0.58,"bh":0.66},{"t":0.169,"al":-0.60,"ah":0.65,"bl":-0.56,"bh":0.62},{"t":0.170,"al":-0.55,"ah":0.58,"bl":-0.50,"bh":0.58},{"t":0.171,"al":-0.48,"ah":0.48,"bl":-0.45,"bh":0.50},{"t":0.172,"al":-0.40,"ah":0.42,"bl":-0.40,"bh":0.45},{"t":0.173,"al":-0.36,"ah":0.36,"bl":-0.38,"bh":0.40},{"t":0.174,"al":-0.45,"ah":0.45,"bl":-0.50,"bh":0.55},{"t":0.175,"al":-0.55,"ah":0.55,"bl":-0.65,"bh":0.75},{"t":0.1755,"al":-0.58,"ah":0.58,"bl":-0.80,"bh":1.12},{"t":0.176,"al":-0.60,"ah":0.60,"bl":-0.90,"bh":0.80},{"t":0.1766,"al":-0.60,"ah":0.60,"bl":-1.24,"bh":0.70},{"t":0.177,"al":-0.58,"ah":0.58,"bl":-0.80,"bh":0.65},{"t":0.178,"al":-0.48,"ah":0.48,"bl":-0.55,"bh":0.55},{"t":0.179,"al":-0.38,"ah":0.38,"bl":-0.42,"bh":0.42},{"t":0.180,"al":-0.26,"ah":0.26,"bl":-0.30,"bh":0.30},
{"t":0.181,"al":-0.16,"ah":0.16,"bl":-0.20,"bh":0.20},{"t":0.182,"al":-0.12,"ah":0.12,"bl":-0.14,"bh":0.14},{"t":0.183,"al":-0.12,"ah":0.12,"bl":-0.14,"bh":0.15},{"t":0.184,"al":-0.17,"ah":0.17,"bl":-0.20,"bh":0.20},{"t":0.185,"al":-0.28,"ah":0.28,"bl":-0.30,"bh":0.32},{"t":0.186,"al":-0.40,"ah":0.40,"bl":-0.40,"bh":0.45},{"t":0.187,"al":-0.50,"ah":0.50,"bl":-0.48,"bh":0.55},{"t":0.188,"al":-0.55,"ah":0.55,"bl":-0.50,"bh":0.62},{"t":0.189,"al":-0.56,"ah":0.55,"bl":-0.50,"bh":0.60},{"t":0.190,"al":-0.52,"ah":0.50,"bl":-0.48,"bh":0.55},{"t":0.191,"al":-0.45,"ah":0.45,"bl":-0.42,"bh":0.50},{"t":0.192,"al":-0.40,"ah":0.40,"bl":-0.40,"bh":0.45},{"t":0.193,"al":-0.38,"ah":0.38,"bl":-0.40,"bh":0.45},{"t":0.194,"al":-0.45,"ah":0.45,"bl":-0.55,"bh":0.60},{"t":0.195,"al":-0.55,"ah":0.55,"bl":-0.70,"bh":0.80},{"t":0.196,"al":-0.60,"ah":0.60,"bl":-0.90,"bh":0.95},{"t":0.1967,"al":-0.60,"ah":0.60,"bl":-1.24,"bh":1.16},{"t":0.197,"al":-0.60,"ah":0.60,"bl":-0.95,"bh":1.05},{"t":0.198,"al":-0.50,"ah":0.50,"bl":-0.80,"bh":0.95},{"t":0.199,"al":-0.40,"ah":0.40,"bl":-0.50,"bh":0.60},{"t":0.200,"al":-0.30,"ah":0.30,"bl":-0.30,"bh":0.35},
{"t":0.0005,"bl":-0.18,"bh":0.24},{"t":0.0015,"bl":-0.12,"bh":0.15},{"t":0.0025,"bl":-0.08,"bh":0.10},{"t":0.0035,"bl":-0.12,"bh":0.12},{"t":0.0045,"bl":-0.20,"bh":0.22},{"t":0.0055,"bl":-0.30,"bh":0.34},{"t":0.0065,"bl":-0.36,"bh":0.40},{"t":0.0115,"bl":-0.34,"bh":0.42},{"t":0.0125,"bl":-0.30,"bh":0.36},{"t":0.0135,"bl":-0.30,"bh":0.40},{"t":0.0145,"bl":-0.42,"bh":0.48},{"t":0.0155,"bl":-0.50,"bh":0.56},{"t":0.0185,"bl":-0.40,"bh":0.44},{"t":0.0195,"bl":-0.28,"bh":0.30},
{"t":0.0205,"bl":-0.22,"bh":0.24},{"t":0.0215,"bl":-0.13,"bh":0.14},{"t":0.0225,"bl":-0.09,"bh":0.10},{"t":0.0235,"bl":-0.16,"bh":0.18},{"t":0.0245,"bl":-0.26,"bh":0.30},{"t":0.0255,"bl":-0.36,"bh":0.40},{"t":0.0295,"bl":-0.42,"bh":0.48},{"t":0.0305,"bl":-0.38,"bh":0.50},{"t":0.0315,"bl":-0.36,"bh":0.40},{"t":0.0325,"bl":-0.32,"bh":0.40},{"t":0.0335,"bl":-0.40,"bh":0.36},{"t":0.0345,"bl":-0.44,"bh":0.52},{"t":0.0355,"bl":-0.56,"bh":0.60},{"t":0.0385,"bl":-0.40,"bh":0.40},{"t":0.0395,"bl":-0.30,"bh":0.32},
{"t":0.0405,"bl":-0.22,"bh":0.24},{"t":0.0415,"bl":-0.15,"bh":0.14},{"t":0.0425,"bl":-0.10,"bh":0.09},{"t":0.0435,"bl":-0.14,"bh":0.15},{"t":0.0445,"bl":-0.28,"bh":0.24},{"t":0.0485,"bl":-0.46,"bh":0.50},{"t":0.0495,"bl":-0.50,"bh":0.56},{"t":0.0505,"bl":-0.42,"bh":0.42},{"t":0.0515,"bl":-0.40,"bh":0.40},{"t":0.0525,"bl":-0.34,"bh":0.36},{"t":0.0535,"bl":-0.40,"bh":0.38},{"t":0.0545,"bl":-0.44,"bh":0.46},{"t":0.0555,"bl":-0.52,"bh":0.58},{"t":0.0565,"bl":-0.64,"bh":0.62},{"t":0.0585,"bl":-0.42,"bh":0.40},{"t":0.0595,"bl":-0.30,"bh":0.32},
{"t":0.0605,"bl":-0.22,"bh":0.22},{"t":0.0615,"bl":-0.14,"bh":0.14},{"t":0.0625,"bl":-0.09,"bh":0.10},{"t":0.0635,"bl":-0.15,"bh":0.16},{"t":0.0645,"bl":-0.30,"bh":0.26},{"t":0.0655,"bl":-0.40,"bh":0.44},{"t":0.0675,"bl":-0.50,"bh":0.50},{"t":0.0695,"bl":-0.44,"bh":0.48},{"t":0.0705,"bl":-0.40,"bh":0.44},{"t":0.0715,"bl":-0.36,"bh":0.38},{"t":0.0725,"bl":-0.34,"bh":0.36},{"t":0.0735,"bl":-0.42,"bh":0.40},{"t":0.0745,"bl":-0.48,"bh":0.50},{"t":0.0755,"bl":-0.60,"bh":0.58},{"t":0.0774,"bl":-0.58,"bh":0.60},{"t":0.0785,"bl":-0.38,"bh":0.40},{"t":0.0795,"bl":-0.30,"bh":0.30},
{"t":0.0805,"bl":-0.22,"bh":0.24},{"t":0.0815,"bl":-0.15,"bh":0.14},{"t":0.0825,"bl":-0.09,"bh":0.10},{"t":0.0835,"bl":-0.16,"bh":0.18},{"t":0.0845,"bl":-0.28,"bh":0.30},{"t":0.0855,"bl":-0.40,"bh":0.46},{"t":0.0865,"bl":-0.50,"bh":0.56},{"t":0.0895,"bl":-0.50,"bh":0.56},{"t":0.0905,"bl":-0.42,"bh":0.50},{"t":0.0915,"bl":-0.40,"bh":0.44},{"t":0.0925,"bl":-0.34,"bh":0.38},{"t":0.0935,"bl":-0.42,"bh":0.40},{"t":0.0945,"bl":-0.50,"bh":0.58},{"t":0.0976,"bl":-0.58,"bh":0.58},{"t":0.0985,"bl":-0.42,"bh":0.44},{"t":0.0995,"bl":-0.32,"bh":0.32},
{"t":0.1005,"bl":-0.22,"bh":0.22},{"t":0.1015,"bl":-0.15,"bh":0.14},{"t":0.1025,"bl":-0.12,"bh":0.11},{"t":0.1035,"bl":-0.16,"bh":0.18},{"t":0.1045,"bl":-0.26,"bh":0.30},{"t":0.1055,"bl":-0.40,"bh":0.44},{"t":0.1065,"bl":-0.44,"bh":0.56},{"t":0.1095,"bl":-0.46,"bh":0.58},{"t":0.1105,"bl":-0.40,"bh":0.48},{"t":0.1115,"bl":-0.36,"bh":0.42},{"t":0.1125,"bl":-0.34,"bh":0.36},{"t":0.1135,"bl":-0.40,"bh":0.40},{"t":0.1145,"bl":-0.50,"bh":0.52},{"t":0.1155,"bl":-0.60,"bh":0.58},{"t":0.1176,"bl":-0.60,"bh":0.58},{"t":0.1185,"bl":-0.42,"bh":0.42},{"t":0.1195,"bl":-0.30,"bh":0.32},
{"t":0.1205,"bl":-0.22,"bh":0.22},{"t":0.1215,"bl":-0.14,"bh":0.14},{"t":0.1225,"bl":-0.10,"bh":0.09},{"t":0.1235,"bl":-0.15,"bh":0.15},{"t":0.1245,"bl":-0.26,"bh":0.24},{"t":0.1255,"bl":-0.36,"bh":0.40},{"t":0.1265,"bl":-0.44,"bh":0.48},{"t":0.1275,"bl":-0.42,"bh":0.54},{"t":0.1285,"bl":-0.46,"bh":0.52},{"t":0.1295,"bl":-0.42,"bh":0.50},{"t":0.1305,"bl":-0.40,"bh":0.44},{"t":0.1315,"bl":-0.36,"bh":0.40},{"t":0.1325,"bl":-0.32,"bh":0.36},{"t":0.1335,"bl":-0.42,"bh":0.40},{"t":0.1345,"bl":-0.48,"bh":0.52},{"t":0.1355,"bl":-0.62,"bh":0.60},{"t":0.1375,"bl":-0.62,"bh":0.60},{"t":0.1385,"bl":-0.42,"bh":0.42},{"t":0.1395,"bl":-0.30,"bh":0.32},
{"t":0.1405,"bl":-0.22,"bh":0.22},{"t":0.1415,"bl":-0.14,"bh":0.14},{"t":0.1425,"bl":-0.10,"bh":0.09},{"t":0.1435,"bl":-0.15,"bh":0.16},{"t":0.1445,"bl":-0.26,"bh":0.28},{"t":0.1455,"bl":-0.40,"bh":0.44},{"t":0.1465,"bl":-0.50,"bh":0.58},{"t":0.1475,"bl":-0.56,"bh":0.64},{"t":0.1485,"bl":-0.54,"bh":0.66},{"t":0.1495,"bl":-0.52,"bh":0.60},{"t":0.1505,"bl":-0.44,"bh":0.50},{"t":0.1515,"bl":-0.40,"bh":0.44},{"t":0.1525,"bl":-0.34,"bh":0.38},{"t":0.1535,"bl":-0.42,"bh":0.44},{"t":0.1545,"bl":-0.52,"bh":0.56},{"t":0.1575,"bl":-0.60,"bh":0.60},{"t":0.1585,"bl":-0.42,"bh":0.42},{"t":0.1595,"bl":-0.30,"bh":0.32},
{"t":0.1605,"bl":-0.22,"bh":0.22},{"t":0.1615,"bl":-0.14,"bh":0.14},{"t":0.1625,"bl":-0.10,"bh":0.09},{"t":0.1635,"bl":-0.15,"bh":0.15},{"t":0.1645,"bl":-0.24,"bh":0.26},{"t":0.1655,"bl":-0.36,"bh":0.40},{"t":0.1665,"bl":-0.44,"bh":0.52},{"t":0.1675,"bl":-0.50,"bh":0.56},{"t":0.1685,"bl":-0.48,"bh":0.54},{"t":0.1695,"bl":-0.46,"bh":0.52},{"t":0.1705,"bl":-0.40,"bh":0.46},{"t":0.1715,"bl":-0.36,"bh":0.40},{"t":0.1725,"bl":-0.32,"bh":0.36},{"t":0.1735,"bl":-0.42,"bh":0.42},{"t":0.1745,"bl":-0.54,"bh":0.58},{"t":0.1775,"bl":-0.62,"bh":0.58},{"t":0.1785,"bl":-0.42,"bh":0.42},{"t":0.1795,"bl":-0.30,"bh":0.32},
{"t":0.1805,"bl":-0.22,"bh":0.22},{"t":0.1815,"bl":-0.15,"bh":0.15},{"t":0.1825,"bl":-0.11,"bh":0.11},{"t":0.1835,"bl":-0.15,"bh":0.16},{"t":0.1845,"bl":-0.24,"bh":0.24},{"t":0.1855,"bl":-0.34,"bh":0.38},{"t":0.1865,"bl":-0.42,"bh":0.48},{"t":0.1875,"bl":-0.46,"bh":0.54},{"t":0.1885,"bl":-0.44,"bh":0.52},{"t":0.1895,"bl":-0.42,"bh":0.50},{"t":0.1905,"bl":-0.40,"bh":0.44},{"t":0.1915,"bl":-0.36,"bh":0.40},{"t":0.1925,"bl":-0.34,"bh":0.38},{"t":0.1935,"bl":-0.44,"bh":0.46},{"t":0.1945,"bl":-0.56,"bh":0.62},{"t":0.1955,"bl":-0.68,"bh":0.74},{"t":0.1975,"bl":-0.76,"bh":0.80},{"t":0.1985,"bl":-0.62,"bh":0.70},{"t":0.1995,"bl":-0.38,"bh":0.42}
],
"rms": [
{"t":0.0,"s":"110 kN","v":1.42},{"t":0.0025,"s":"110 kN","v":0.90},{"t":0.0052,"s":"110 kN","v":0.70},{"t":0.0075,"s":"110 kN","v":0.95},{"t":0.0107,"s":"110 kN","v":1.59},{"t":0.0148,"s":"110 kN","v":1.11},{"t":0.0182,"s":"110 kN","v":1.74},{"t":0.0215,"s":"110 kN","v":1.20},{"t":0.025,"s":"110 kN","v":0.76},{"t":0.027,"s":"110 kN","v":0.88},{"t":0.031,"s":"110 kN","v":1.62},{"t":0.0349,"s":"110 kN","v":1.07},{"t":0.038,"s":"110 kN","v":1.81},{"t":0.0415,"s":"110 kN","v":1.25},{"t":0.0447,"s":"110 kN","v":0.83},{"t":0.0462,"s":"110 kN","v":0.90},{"t":0.0511,"s":"110 kN","v":1.67},{"t":0.0556,"s":"110 kN","v":1.26},{"t":0.0584,"s":"110 kN","v":1.74},{"t":0.0615,"s":"110 kN","v":1.20},{"t":0.0648,"s":"110 kN","v":0.76},{"t":0.0668,"s":"110 kN","v":0.86},{"t":0.0716,"s":"110 kN","v":1.62},{"t":0.0758,"s":"110 kN","v":1.13},{"t":0.0778,"s":"110 kN","v":1.70},{"t":0.0812,"s":"110 kN","v":1.15},{"t":0.0847,"s":"110 kN","v":0.76},{"t":0.0867,"s":"110 kN","v":0.85},{"t":0.0912,"s":"110 kN","v":1.65},{"t":0.0956,"s":"110 kN","v":1.28},{"t":0.098,"s":"110 kN","v":1.82},{"t":0.1015,"s":"110 kN","v":1.25},{"t":0.1049,"s":"110 kN","v":0.79},{"t":0.1069,"s":"110 kN","v":0.88},{"t":0.1111,"s":"110 kN","v":1.61},{"t":0.1152,"s":"110 kN","v":1.04},{"t":0.118,"s":"110 kN","v":1.63},{"t":0.1215,"s":"110 kN","v":1.10},{"t":0.1248,"s":"110 kN","v":0.74},{"t":0.1268,"s":"110 kN","v":0.84},{"t":0.131,"s":"110 kN","v":1.53},{"t":0.1353,"s":"110 kN","v":1.18},{"t":0.1381,"s":"110 kN","v":1.60},{"t":0.1415,"s":"110 kN","v":1.10},{"t":0.1449,"s":"110 kN","v":0.70},{"t":0.1469,"s":"110 kN","v":0.80},{"t":0.1512,"s":"110 kN","v":1.58},{"t":0.1549,"s":"110 kN","v":1.12},{"t":0.1581,"s":"110 kN","v":1.70},{"t":0.1615,"s":"110 kN","v":1.15},{"t":0.1649,"s":"110 kN","v":0.77},{"t":0.1669,"s":"110 kN","v":0.86},{"t":0.1714,"s":"110 kN","v":1.62},{"t":0.1755,"s":"110 kN","v":1.10},{"t":0.1782,"s":"110 kN","v":1.60},{"t":0.1818,"s":"110 kN","v":1.05},{"t":0.1851,"s":"110 kN","v":0.69},{"t":0.1871,"s":"110 kN","v":0.80},{"t":0.1912,"s":"110 kN","v":1.50},{"t":0.1951,"s":"110 kN","v":1.04},{"t":0.1981,"s":"110 kN","v":1.53},{"t":0.2,"s":"110 kN","v":1.30},
{"t":0.0,"s":"293 kN","v":2.90},{"t":0.0052,"s":"293 kN","v":1.33},{"t":0.0116,"s":"293 kN","v":2.15},{"t":0.0155,"s":"293 kN","v":1.47},{"t":0.0189,"s":"293 kN","v":3.06},{"t":0.0253,"s":"293 kN","v":1.33},{"t":0.0315,"s":"293 kN","v":2.28},{"t":0.0356,"s":"293 kN","v":1.50},{"t":0.039,"s":"293 kN","v":2.73},{"t":0.0449,"s":"293 kN","v":1.23},{"t":0.0515,"s":"293 kN","v":2.15},{"t":0.0556,"s":"293 kN","v":1.40},{"t":0.0593,"s":"293 kN","v":2.69},{"t":0.0652,"s":"293 kN","v":1.24},{"t":0.0716,"s":"293 kN","v":2.20},{"t":0.0758,"s":"293 kN","v":1.45},{"t":0.0792,"s":"293 kN","v":2.64},{"t":0.0853,"s":"293 kN","v":1.26},{"t":0.0915,"s":"293 kN","v":2.26},{"t":0.0956,"s":"293 kN","v":1.53},{"t":0.099,"s":"293 kN","v":2.76},{"t":0.1052,"s":"293 kN","v":1.26},{"t":0.1118,"s":"293 kN","v":2.12},{"t":0.1159,"s":"293 kN","v":1.42},{"t":0.1193,"s":"293 kN","v":2.64},{"t":0.1252,"s":"293 kN","v":1.28},{"t":0.128,"s":"293 kN","v":1.69},{"t":0.1316,"s":"293 kN","v":2.05},{"t":0.1358,"s":"293 kN","v":1.39},{"t":0.1392,"s":"293 kN","v":2.53},{"t":0.1453,"s":"293 kN","v":1.20},{"t":0.1512,"s":"293 kN","v":2.13},{"t":0.1556,"s":"293 kN","v":1.45},{"t":0.159,"s":"293 kN","v":2.91},{"t":0.1655,"s":"293 kN","v":1.31},{"t":0.1718,"s":"293 kN","v":2.10},{"t":0.1755,"s":"293 kN","v":1.42},{"t":0.1793,"s":"293 kN","v":2.67},{"t":0.1855,"s":"293 kN","v":1.22},{"t":0.1919,"s":"293 kN","v":1.89},{"t":0.1956,"s":"293 kN","v":1.33},{"t":0.199,"s":"293 kN","v":2.92},{"t":0.2,"s":"293 kN","v":2.85}
]
},
"spacing": 10,
"vconcat": [
{"spacing": 0, "bounds": "flush", "vconcat": [
  {"width": 535, "height": 36, "view": {"fill": "#D9D9D9", "stroke": "#333333", "strokeWidth": 1.1},
   "data": {"values": [{"lab": "Oil gap pressure [MPa]"}]},
   "mark": {"type": "text", "fontSize": 19, "color": "#1A1A1A", "font": "Liberation Sans"},
   "encoding": {"text": {"field": "lab", "type": "nominal"}}},
  {"width": 535, "height": 161.5,
   "data": {"name": "pres"},
   "encoding": {
     "x": {"field": "t", "type": "quantitative", "scale": {"domain": [-0.01, 0.21], "nice": false, "zero": false},
       "axis": {"values": [0,0.02,0.04,0.06,0.08,0.1,0.12,0.14,0.16,0.18,0.2], "labels": false, "ticks": false, "title": null, "minExtent": 0, "maxExtent": 0,
         "gridWidth": {"condition": {"test": "round(datum.value*100) % 4 == 0", "value": 1.8}, "value": 0.9}}},
     "y": {"field": "lo", "type": "quantitative", "stack": null, "scale": {"domain": [-1.45, 35.7], "nice": false, "zero": false},
       "axis": {"values": [0,5,10,15,20,25,30,35], "title": null, "labelExpr": "datum.value % 10 == 0 ? datum.label : ''",
         "tickOpacity": {"condition": {"test": "datum.value % 10 == 0", "value": 1}, "value": 0},
         "gridWidth": {"condition": {"test": "datum.value % 10 == 0", "value": 1.8}, "value": 0.9}}},
     "y2": {"field": "hi"}
   },
   "layer": [
     {"transform": [{"filter": "datum.s == '110 kN'"}],
      "mark": {"type": "area", "color": "#008B8B", "stroke": "#008B8B", "strokeWidth": 3.5, "strokeJoin": "round", "opacity": 0.7, "interpolate": "monotone"}},
     {"transform": [{"filter": "datum.s == '293 kN'"}],
      "mark": {"type": "area", "color": "#FF8C00", "stroke": "#FF8C00", "strokeWidth": 3.5, "strokeJoin": "round", "opacity": 0.7, "interpolate": "monotone"}}
   ]}
]},
{"spacing": 0, "bounds": "flush", "vconcat": [
  {"width": 535, "height": 36, "view": {"fill": "#D9D9D9", "stroke": "#333333", "strokeWidth": 1.1},
   "data": {"values": [{"lab": "Raw AE signal [V]"}]},
   "mark": {"type": "text", "fontSize": 19, "color": "#1A1A1A", "font": "Liberation Sans"},
   "encoding": {"text": {"field": "lab", "type": "nominal"}}},
  {"width": 535, "height": 161.5,
   "data": {"name": "ae"},
   "encoding": {
     "x": {"field": "t", "type": "quantitative", "scale": {"domain": [-0.01, 0.21], "nice": false, "zero": false},
       "axis": {"values": [0,0.02,0.04,0.06,0.08,0.1,0.12,0.14,0.16,0.18,0.2], "labels": false, "ticks": false, "title": null, "minExtent": 0, "maxExtent": 0,
         "gridWidth": {"condition": {"test": "round(datum.value*100) % 4 == 0", "value": 1.8}, "value": 0.9}}}
   },
   "layer": [
     {"transform": [{"filter": "isValid(datum.al)"}],
      "mark": {"type": "area", "color": "#008B8B", "opacity": 0.7, "interpolate": "linear", "invalid": "filter"},
      "encoding": {
        "y": {"field": "al", "type": "quantitative", "stack": null, "scale": {"domain": [-2.1, 1.92], "nice": false, "zero": false},
          "axis": {"values": [-2,-1.5,-1,-0.5,0,0.5,1,1.5], "title": null, "labelExpr": "datum.value % 1 == 0 ? '' + datum.value : ''",
            "tickOpacity": {"condition": {"test": "datum.value % 1 == 0", "value": 1}, "value": 0},
            "gridWidth": {"condition": {"test": "datum.value % 1 == 0", "value": 1.8}, "value": 0.9}}},
        "y2": {"field": "ah"}
      }},
     {"mark": {"type": "area", "color": "#FF8C00", "opacity": 0.7, "interpolate": "linear"},
      "encoding": {
        "y": {"field": "bl", "type": "quantitative", "stack": null},
        "y2": {"field": "bh"}
      }}
   ]}
]},
{"spacing": 0, "bounds": "flush", "vconcat": [
  {"width": 535, "height": 36, "view": {"fill": "#D9D9D9", "stroke": "#333333", "strokeWidth": 1.1},
   "data": {"values": [{"lab": "RMS of AE signal [V]"}]},
   "mark": {"type": "text", "fontSize": 19, "color": "#1A1A1A", "font": "Liberation Sans"},
   "encoding": {"text": {"field": "lab", "type": "nominal"}}},
  {"width": 535, "height": 161.5,
   "data": {"name": "rms"},
   "mark": {"type": "line", "opacity": 0.7, "strokeWidth": 2.7, "interpolate": "monotone"},
   "encoding": {
     "x": {"field": "t", "type": "quantitative", "scale": {"domain": [-0.01, 0.21], "nice": false, "zero": false},
       "axis": {"values": [0,0.02,0.04,0.06,0.08,0.1,0.12,0.14,0.16,0.18,0.2], "title": "Time [s]", "titleFontSize": 21, "titleColor": "#000000", "titlePadding": 3, "titleFont": "Liberation Sans",
         "labelExpr": "round(datum.value*100) % 4 == 0 ? format(datum.value, '.2f') : ''",
         "tickOpacity": {"condition": {"test": "round(datum.value*100) % 4 == 0", "value": 1}, "value": 0},
         "gridWidth": {"condition": {"test": "round(datum.value*100) % 4 == 0", "value": 1.8}, "value": 0.9}}},
     "y": {"field": "v", "type": "quantitative", "scale": {"domain": [0.576, 3.18], "nice": false, "zero": false},
       "axis": {"values": [0.75,1,1.25,1.5,1.75,2,2.25,2.5,2.75,3], "title": null, "labelExpr": "round(datum.value*100) % 50 == 0 ? format(datum.value, '.1f') : ''",
         "tickOpacity": {"condition": {"test": "round(datum.value*100) % 50 == 0", "value": 1}, "value": 0},
         "gridWidth": {"condition": {"test": "round(datum.value*100) % 50 == 0", "value": 1.8}, "value": 0.9}}},
     "color": {"field": "s", "type": "nominal", "scale": {"domain": ["110 kN", "293 kN"], "range": ["#008B8B", "#FF8C00"]},
       "legend": {"orient": "none", "legendX": 84.5, "legendY": -40, "direction": "horizontal", "title": "F_max", "titleOrient": "left", "titleAnchor": "middle", "titleFontSize": 21, "titleFontWeight": "normal", "titleColor": "#000000", "titleFont": "Liberation Sans", "titlePadding": 12, "labelFontSize": 16, "labelColor": "#000000", "labelFont": "Liberation Sans", "symbolType": "stroke", "symbolSize": 1089, "symbolStrokeWidth": 3, "symbolOpacity": 0.7, "labelOffset": 13, "columnPadding": 11, "padding": 0,
         "encode": {"title": {"update": {"dy": {"value": 4}}}}}}
   }}
]}
]
}
